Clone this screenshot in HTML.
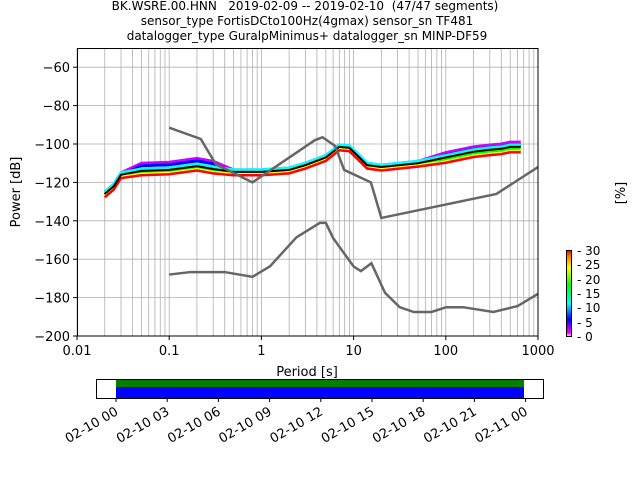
<!DOCTYPE html><html><head><style>body{margin:0;background:#fff}svg{display:block}text{font-family:"DejaVu Sans","Liberation Sans",sans-serif;white-space:pre}</style></head><body>
<svg id="s" width="640" height="480" xmlns="http://www.w3.org/2000/svg">
<text x="305" y="10" font-size="12" text-anchor="middle" xml:space="preserve">BK.WSRE.00.HNN   2019-02-09 -- 2019-02-10  (47/47 segments)</text>
<text x="307" y="25" font-size="12" text-anchor="middle">sensor_type FortisDCto100Hz(4gmax) sensor_sn TF481</text>
<text x="307" y="40" font-size="12" text-anchor="middle">datalogger_type GuralpMinimus+ datalogger_sn MINP-DF59</text>
<g id="g"></g>
<text x="307" y="376" font-size="13" text-anchor="middle">Period [s]</text>
<text transform="translate(20,192) rotate(-90)" font-size="13" text-anchor="middle">Power [dB]</text>
<text transform="translate(625,193) rotate(-90)" font-size="13" text-anchor="middle">[%]</text>
<defs><linearGradient id="cb" x1="0" y1="1" x2="0" y2="0">
<stop offset="0" stop-color="#fff"/><stop offset="0.04" stop-color="#f0f"/><stop offset="0.2" stop-color="#00f"/><stop offset="0.38" stop-color="#0ff"/><stop offset="0.6" stop-color="#0f0"/><stop offset="0.8" stop-color="#ff0"/><stop offset="0.92" stop-color="#f80"/><stop offset="1" stop-color="#f00"/></linearGradient></defs>
<rect x="566.5" y="250.5" width="5" height="86" fill="url(#cb)" stroke="#000"/>
<g font-size="12">
<text x="577" y="255">- 30</text><text x="577" y="269">- 25</text><text x="577" y="284">- 20</text><text x="577" y="298">- 15</text><text x="577" y="312">- 10</text><text x="577" y="327">- 5</text><text x="577" y="341">- 0</text></g>
<rect x="96.5" y="379.5" width="447" height="19" fill="#fff" stroke="#000"/>
<rect x="116" y="380" width="408" height="7" fill="#008000"/>
<rect x="116" y="387" width="408" height="11" fill="#0000ff"/>
<g id="tl" font-size="13"></g>
</svg>
<script>
const g=document.getElementById('g');let h='';
const X=p=>77+(Math.log10(p)+2)*92.2, Y=v=>48+(-50-v)*1.92;
for(let d=-2;d<3;d++)for(let k=2;k<10;k++){const x=X(k*Math.pow(10,d));h+=`<line x1="${x}" x2="${x}" y1="48" y2="336" stroke="#b0b0b0" stroke-width="0.8"/>`;}
for(let d=-2;d<=3;d++){const x=X(Math.pow(10,d));h+=`<line x1="${x}" x2="${x}" y1="48" y2="336" stroke="#b0b0b0" stroke-width="0.8"/><line x1="${x}" x2="${x}" y1="336" y2="340" stroke="#000"/><text x="${x}" y="355" font-size="13" text-anchor="middle">${[0.01,0.1,1,10,100,1000][d+2]}</text>`;}
for(let v=-60;v>=-200;v-=20){const y=Y(v);h+=`<line x1="77" x2="538" y1="${y}" y2="${y}" stroke="#b0b0b0" stroke-width="0.8"/><line x1="73" x2="77" y1="${y}" y2="${y}" stroke="#000"/><text x="70" y="${y+5}" font-size="13" text-anchor="end">\u2212${-v}</text>`;}
const pl=(pts,c,w,o=0)=>`<polyline fill="none" stroke="${c}" stroke-width="${w}" points="${pts.map(p=>X(p[0])+','+(Y(p[1])+o)).join(' ')}"/>`;
const m=[[0.02,-126],[0.025,-122],[0.03,-116],[0.05,-114],[0.1,-113.5],[0.2,-111.5],[0.3,-113],[0.5,-114.5],[1,-114.5],[2,-113.5],[3,-111],[5,-107],[7,-101.5],[9,-102],[11,-106],[14,-111],[20,-112],[50,-110],[100,-107],[200,-104],[300,-103],[400,-102.5],[500,-101.5],[650,-101.5]];
const up=m.map(([p,v])=>[p,v+(p>0.03&&p<0.4?4:(p>60?2.5:1))]);
const lo=m.map(([p,v])=>[p,v-(p>0.03&&p<0.4?1.5:(p>60?2:1))]);
h+=pl(up,'#c0f',3,0)+pl(up,'#00f',3,2.5)+pl(m,'#0ff',3,-2)+pl(m,'#0f0',3,1.5)+pl(lo,'#ff0',2,0)+pl(lo,'#f00',2.5,1.5)+pl(m,'#000',2);
const nh=[[0.1,-91.5],[0.22,-97.4],[0.32,-110.5],[0.8,-120],[3.8,-98],[4.6,-96.5],[6.3,-101],[7.9,-113.5],[15.4,-120],[20,-138.5],[354,-126],[1000,-112]];
const nl=[[0.1,-168],[0.17,-166.7],[0.4,-166.7],[0.8,-169.2],[1.24,-163.7],[2.4,-148.6],[4.3,-141.1],[5,-141.1],[6,-149],[10,-163.8],[12,-166.2],[15.6,-162.1],[21.9,-177.5],[31.6,-185],[45,-187.5],[70,-187.5],[101,-185],[154,-185],[328,-187.5],[600,-184.4],[1000,-178]];
h+=pl(nh,'#666',2.5)+pl(nl,'#666',2.5);
h+='<rect x="77.5" y="48.5" width="460.5" height="287.5" fill="none" stroke="#000"/>';
g.innerHTML=h;
let t='';const lb=['02-10 00','02-10 03','02-10 06','02-10 09','02-10 12','02-10 15','02-10 18','02-10 21','02-11 00'];
lb.forEach((s,i)=>{const x=116+i*51.2;t+=`<line x1="${x}" x2="${x}" y1="398" y2="402" stroke="#000"/><text transform="translate(${x+3},414) rotate(-30)" text-anchor="end">${s}</text>`;});
document.getElementById('tl').innerHTML=t;
</script></body></html>
